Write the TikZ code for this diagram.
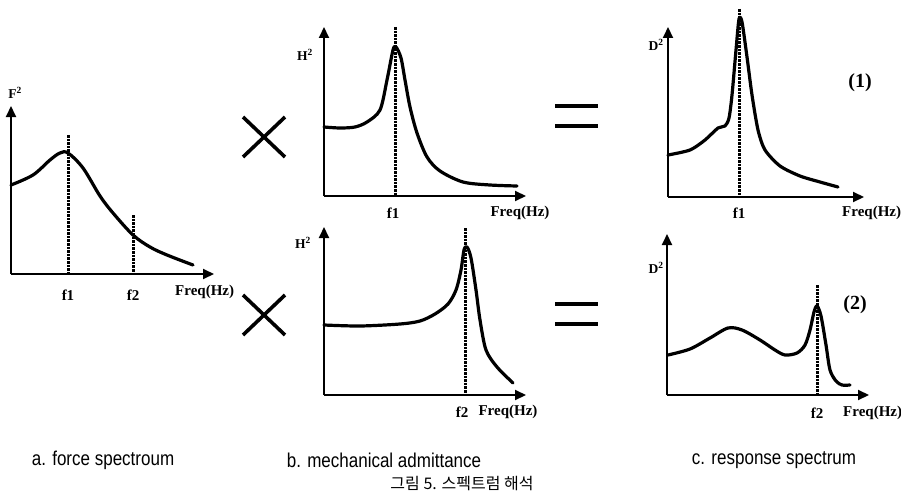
\documentclass[tikz,border=0pt]{standalone}
\usepackage{fontspec}
\setmainfont{Liberation Serif}
\newfontfamily\capf[FakeStretch=0.85]{Liberation Sans}
\newfontfamily\krf{Noto Sans CJK KR}
\usetikzlibrary{arrows.meta}
\begin{document}
\begin{tikzpicture}[x=1pt,y=-1pt,
  axis/.style={line width=2pt,-{Triangle[length=11pt,width=10pt]}},
  curve/.style={line width=3.2pt,line cap=round,line join=round},
  dotline/.style={line width=3pt,dash pattern=on 2.6pt off 1pt},
  opsym/.style={line width=3.6pt},
  axlab/.style={font=\fontsize{13.5}{15}\selectfont\bfseries,inner sep=0pt},
  flab/.style={font=\fontsize{15}{17}\selectfont\bfseries,inner sep=0pt},
  numlab/.style={font=\fontsize{20}{22}\selectfont\bfseries,inner sep=0pt},
  caplab/.style={font=\fontsize{20}{22}\selectfont\capf,inner sep=0pt},
  krlab/.style={font=\fontsize{16}{18}\selectfont\krf,inner sep=0pt}]
\useasboundingbox (0,0) rectangle (901,503);
\fill[white] (0,0) rectangle (901,503);

% ---------- a. force spectrum ----------
\coordinate (aO) at (11,274);
\coordinate (aY) at (11,106);
\coordinate (aX) at (214,274);
\draw[axis] (aO) -- (aY);
\draw[axis] (aO) -- (aX);
\coordinate (af1t) at (68,135);  \coordinate (af1b) at (68,274);
\coordinate (af2t) at (133,215); \coordinate (af2b) at (133,274);
\draw[dotline] (af1t) -- (af1b);
\draw[dotline] (af2t) -- (af2b);
\draw[curve] plot[smooth,tension=0.55] coordinates {(11,185) (33,175) (50,160) (60,153) (68,153) (83,168) (100,196) (113,213) (133,235) (150,247) (167,255) (193,265)};
\node[axlab] (aF) at (15,93) {F\textsuperscript{2}};
\node[flab] (af1) at (68,295) {f1};
\node[flab] (af2) at (133,295) {f2};
\node[flab,anchor=west] (afq) at (175,292) {Freq(Hz)};

% ---------- multiply signs ----------
\coordinate (x1a) at (243,117); \coordinate (x1b) at (285,157);
\coordinate (x1c) at (285,117); \coordinate (x1d) at (243,157);
\draw[opsym] (x1a) -- (x1b); \draw[opsym] (x1c) -- (x1d);
\coordinate (x2a) at (243,295); \coordinate (x2b) at (285,335);
\coordinate (x2c) at (285,295); \coordinate (x2d) at (243,335);
\draw[opsym] (x2a) -- (x2b); \draw[opsym] (x2c) -- (x2d);

% ---------- b. top ----------
\coordinate (bO) at (324,196);
\coordinate (bY) at (324,27);
\coordinate (bX) at (526,196);
\draw[axis] (bO) -- (bY);
\draw[axis] (bO) -- (bX);
\coordinate (bdt) at (395,27); \coordinate (bdb) at (395,196);
\draw[dotline] (bdt) -- (bdb);
\draw[curve] plot[smooth,tension=0.5] coordinates {(324,127) (340,128) (355,127) (367,122) (380,110) (387,80) (393,50) (396,47) (401,58) (405,80) (410,107) (417,133) (427,157) (440,171) (463,182) (490,185) (517,186)};
\node[axlab] (bH) at (305,55) {H\textsuperscript{2}};
\node[flab] (bf1) at (393,213) {f1};
\node[flab] (bfq) at (520,213) {Freq(Hz)};

% ---------- b. bottom ----------
\coordinate (cO) at (324,395);
\coordinate (cY) at (324,227);
\coordinate (cX) at (526,395);
\draw[axis] (cO) -- (cY);
\draw[axis] (cO) -- (cX);
\coordinate (cdt) at (465,228); \coordinate (cdb) at (465,395);
\draw[dotline] (cdt) -- (cdb);
\draw[curve] plot[smooth,tension=0.5] coordinates {(324,325) (360,326) (400,324) (420,321) (435,314) (448,304) (456,290) (461,270) (464,250) (467,247) (471,258) (476,290) (480,320) (486,350) (497,367) (513,383)};
\node[axlab] (cH) at (303,243) {H\textsuperscript{2}};
\node[flab] (cf2) at (462,412) {f2};
\node[flab] (cfq) at (508,412) {Freq(Hz)};

% ---------- equal signs ----------
\coordinate (e1a) at (555,106); \coordinate (e1b) at (598,106);
\coordinate (e1c) at (555,126); \coordinate (e1d) at (598,126);
\draw[opsym,line width=4pt] (e1a) -- (e1b); \draw[opsym,line width=4pt] (e1c) -- (e1d);
\coordinate (e2a) at (555,304); \coordinate (e2b) at (598,304);
\coordinate (e2c) at (555,324); \coordinate (e2d) at (598,324);
\draw[opsym,line width=4pt] (e2a) -- (e2b); \draw[opsym,line width=4pt] (e2c) -- (e2d);

% ---------- c. top ----------
\coordinate (dO) at (668,197);
\coordinate (dY) at (668,27);
\coordinate (dX) at (864,197);
\draw[axis] (dO) -- (dY);
\draw[axis] (dO) -- (dX);
\coordinate (ddt) at (739,9); \coordinate (ddb) at (739,197);
\draw[dotline] (ddt) -- (ddb);
\draw[curve] plot[smooth,tension=0.45] coordinates {(668,155) (690,150) (705,140) (718,128) (725,126) (729,118) (732,95) (736,50) (739,19) (742,22) (747,57) (752,95) (758,130) (765,150) (780,166) (800,176) (820,182) (838,187)};
\node[axlab] (dD) at (656,45) {D\textsuperscript{2}};
\node[flab] (df1) at (739,213) {f1};
\node[flab,anchor=west] (dfq) at (842,213) {Freq(Hz)};
\node[numlab] (n1) at (860,83) {(1)};

% ---------- c. bottom ----------
\coordinate (eO) at (667,395);
\coordinate (eY) at (667,234);
\coordinate (eX) at (869,395);
\draw[axis] (eO) -- (eY);
\draw[axis] (eO) -- (eX);
\coordinate (edt) at (817,285); \coordinate (edb) at (817,395);
\draw[dotline] (edt) -- (edb);
\draw[curve] plot[smooth,tension=0.5] coordinates {(668,355) (690,349) (710,338) (728,328) (742,330) (760,340) (775,350) (785,355) (797,353) (805,345) (810,330) (814,312) (817,306) (821,316) (826,345) (830,370) (836,381) (842,385) (850,385)};
\node[axlab] (eD) at (656,268) {D\textsuperscript{2}};
\node[flab] (ef2) at (817,413) {f2};
\node[flab,anchor=west] (efq) at (843,413) {Freq(Hz)};
\node[numlab] (n2) at (855,305) {(2)};

% ---------- captions ----------
\node[caplab] (capa) at (103,460) {a. force spectroum};
\node[caplab] (capb) at (384,460) {b. mechanical admittance};
\node[caplab] (capc) at (774,460) {c. response spectrum};
\node[krlab] (capk) at (462,484) {그림 5. 스펙트럼 해석};
\end{tikzpicture}
\end{document}
